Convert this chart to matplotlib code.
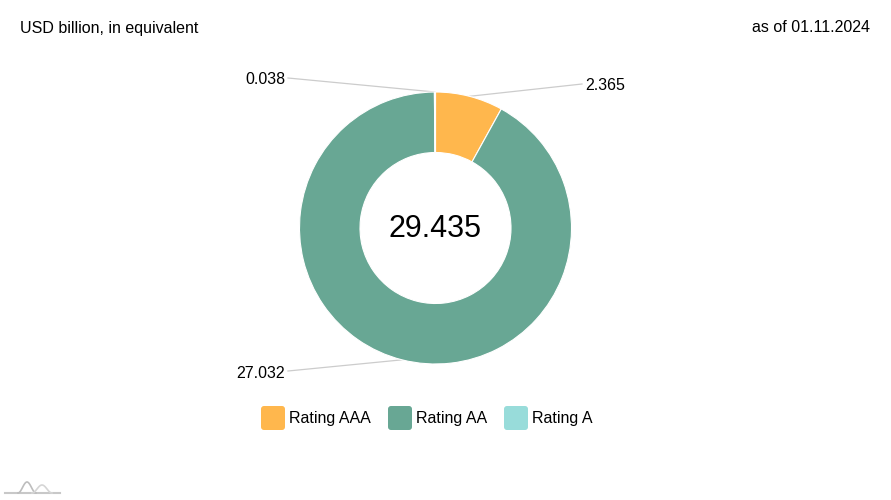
import numpy as np
import matplotlib
matplotlib.use("Agg")
import matplotlib.pyplot as plt
from matplotlib.patches import FancyBboxPatch

plt.rcParams['font.family'] = ['Liberation Sans', 'DejaVu Sans']

categories = ["Rating AAA", "Rating AA", "Rating A"]
values = [2.365, 27.032, 0.038]
value_labels = ["2.365", "27.032", "0.038"]
colors = ["#FFB74D", "#68A794", "#98DCDA"]
total_label = "29.435"

W, H = 891, 500
fig = plt.figure(figsize=(W / 100, H / 100), dpi=100)
ax = fig.add_axes([0, 0, 1, 1])
ax.set_xlim(0, W)
ax.set_ylim(0, H)
ax.set_aspect('equal')
ax.axis('off')

FS = 11.5
dy = 2  # vertical text correction

cx, cy = 435.5, H - 228
R, r = 136, 75.5
wedges, _ = ax.pie(values, colors=colors, startangle=90, counterclock=False,
                   radius=R, center=(cx, cy),
                   wedgeprops=dict(width=R - r, edgecolor='white', linewidth=0.8))
ax.set_xlim(0, W)
ax.set_ylim(0, H)

ax.text(cx, cy - 1, total_label, ha='center', va='center', fontsize=22, color='black')

# label anchor positions (layout), in pixels from top-left
label_pos = {0: (585, 84, 'left'), 1: (285, 371, 'right'), 2: (285, 78, 'right')}
for i, w in enumerate(wedges):
    ang = np.deg2rad((w.theta1 + w.theta2) / 2)
    sx, sy = cx + R * np.cos(ang), cy + R * np.sin(ang)
    lx, ly, ha = label_pos[i]
    ly = H - ly
    ex = lx - 3 if ha == 'left' else lx + 3
    ax.plot([sx, ex], [sy, ly], color='#cccccc', lw=0.9, zorder=0)
    ax.text(lx, ly - dy, value_labels[i], ha=ha, va='center', fontsize=FS, color='black')

ax.text(20, H - 26 - dy, "USD billion, in equivalent", ha='left', va='center', fontsize=FS)
ax.text(870, H - 26 - dy, "as of 01.11.2024", ha='right', va='center', fontsize=FS)

# legend
leg_x = [261, 388, 504]
for x0, c, lab in zip(leg_x, colors, categories):
    p = FancyBboxPatch((x0 + 2, H - 428), 20, 20, boxstyle="round,pad=2,rounding_size=3",
                       facecolor=c, edgecolor='none')
    ax.add_patch(p)
    ax.text(x0 + 28, H - 417 - dy, lab, ha='left', va='center', fontsize=FS)

# small logo decoration
t = np.linspace(0, 1, 60)
ax.plot([5, 60], [H - 493, H - 493], color='#c8c8c8', lw=1.5)
ax.plot(18 + 18 * t, H - 493 + 11 * np.sin(np.pi * t) ** 2, color='#bdbdbd', lw=1.2)
ax.plot(32 + 20 * t, H - 493 + 8 * np.sin(np.pi * t) ** 2, color='#d5d5d5', lw=1.2)

fig.savefig("out.png", dpi=100)
